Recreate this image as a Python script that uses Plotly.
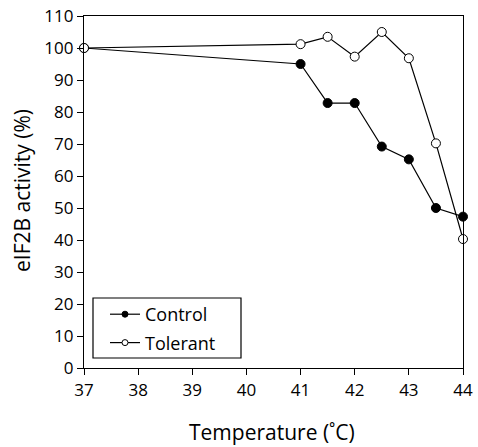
import plotly.graph_objects as go

temps = [37, 41, 41.5, 42, 42.5, 43, 43.5, 44]
control = [100, 95, 82.8, 82.8, 69.2, 65.2, 50, 47.3]
tolerant = [100, 101.2, 103.5, 97.3, 105, 96.8, 70.2, 40.3]
x_ticks = [37, 38, 39, 40, 41, 42, 43, 44]
y_ticks = [0, 10, 20, 30, 40, 50, 60, 70, 80, 90, 100, 110]

L, R, T, B = 84, 15, 16, 79
W, H = 478, 447
pw, ph = W - L - R, H - T - B

def px(xp):
    return (xp - L) / pw

def py(yp):
    return (H - B - yp) / ph

fig = go.Figure()
series = [("Control", control, "black", "c"), ("Tolerant", tolerant, "white", "t")]
for name, vals, fill, grp in series:
    fig.add_trace(go.Scatter(x=temps, y=vals, name=name, mode="lines+markers",
                             legendgroup=grp, showlegend=False,
                             line=dict(color="black", width=1.2),
                             marker=dict(symbol="circle", size=9, color=fill,
                                         line=dict(color="black", width=1)),
                             cliponaxis=False))
for name, vals, fill, grp in series:
    fig.add_trace(go.Scatter(x=[None], y=[None], name=name, mode="lines+markers",
                             legendgroup=grp, showlegend=True,
                             line=dict(color="black", width=1.2),
                             marker=dict(symbol="circle", size=6, color=fill,
                                         line=dict(color="black", width=1))))

font = "Open Sans, Noto Sans, sans-serif"
fig.update_layout(
    width=W, height=H,
    margin=dict(l=L, r=R, t=T, b=B),
    paper_bgcolor="white", plot_bgcolor="white",
    font=dict(family=font, color="black", size=17),
    showlegend=True,
    legend=dict(x=px(105), y=py(296), xanchor="left", yanchor="top",
                borderwidth=0, bgcolor="rgba(0,0,0,0)",
                font=dict(size=18), tracegroupgap=2, itemwidth=30),
    shapes=[dict(type="rect", xref="paper", yref="paper",
                 x0=px(93), x1=px(241), y0=py(358), y1=py(298),
                 line=dict(color="black", width=1.2), fillcolor="rgba(0,0,0,0)")],
    xaxis=dict(range=[37, 44], tickvals=x_ticks, ticks="outside", ticklen=6,
               tickwidth=1.2, tickcolor="black", showline=True, linecolor="black",
               linewidth=1.2, mirror=True, showgrid=False, zeroline=False,
               automargin=False, tickfont=dict(size=17)),
    yaxis=dict(range=[0, 110], tickvals=y_ticks, ticks="outside", ticklen=6,
               tickwidth=1.2, tickcolor="black", showline=True, linecolor="black",
               linewidth=1.2, mirror=True, showgrid=False, zeroline=False,
               automargin=False, tickfont=dict(size=17)),
    annotations=[
        dict(text="Temperature (˚C)", xref="paper", yref="paper",
             x=px(272), y=py(432), xanchor="center", yanchor="middle",
             showarrow=False, font=dict(size=21)),
        dict(text="eIF2B activity (%)", xref="paper", yref="paper",
             x=px(22), y=py(191), xanchor="center", yanchor="middle",
             textangle=-90, showarrow=False, font=dict(size=21)),
    ],
)
fig.write_html("out.html")
